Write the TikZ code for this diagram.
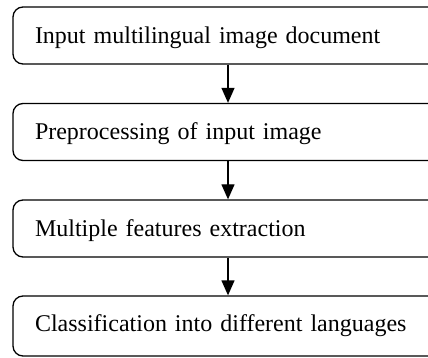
\documentclass[tikz,border=0pt]{standalone}
\usepackage{fontspec}
\setmainfont{Liberation Serif}
\usetikzlibrary{arrows.meta}
\begin{document}
\begin{tikzpicture}[x=1pt,y=1pt,
  stepbox/.style={draw=black, line width=1.3pt, rounded corners=10pt,
    minimum width=430pt, minimum height=57pt, text width=386pt,
    inner xsep=22pt, inner ysep=0pt, align=left,
    text height=16pt, text depth=0pt, font=\fontsize{24}{28}\selectfont},
  flow/.style={line width=1.3pt, -{Triangle[length=15pt,width=13pt]}}]
\useasboundingbox (0,0) rectangle (428,-358);
\clip (0,0) rectangle (428,-358);
\node[stepbox] (a) at (228,-35.5) {Input multilingual image document};
\node[stepbox] (b) at (228,-132) {Preprocessing of input image};
\node[stepbox] (c) at (228,-228.5) {Multiple features extraction};
\node[stepbox, minimum height=60pt, text depth=6pt] (d) at (228,-326) {Classification into different languages};
\draw[flow] (a) -- (b);
\draw[flow] (b) -- (c);
\draw[flow] (c) -- (d);
\end{tikzpicture}
\end{document}
